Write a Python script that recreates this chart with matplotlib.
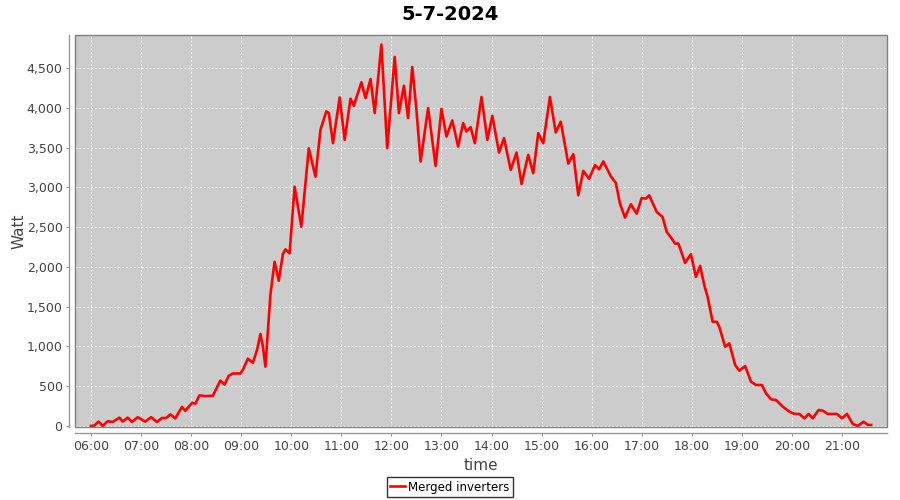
import matplotlib
matplotlib.use("Agg")
import matplotlib.pyplot as plt
import matplotlib.dates as mdates
from matplotlib.patches import Rectangle
from matplotlib.ticker import FuncFormatter, MultipleLocator
import pandas as pd

# --- data (time of day, watts) ---
times = [
    "06:00", "06:04", "06:09", "06:14", "06:20", "06:26", "06:34", "06:38", "06:44", "06:49",
    "06:56", "07:05", "07:12", "07:19", "07:25", "07:30", "07:35", "07:41", "07:49", "07:53",
    "08:01", "08:05", "08:10", "08:17", "08:26", "08:35", "08:40", "08:45", "08:50", "08:59",
    "09:02", "09:08", "09:14", "09:19", "09:23", "09:26", "09:29", "09:35", "09:40", "09:45",
    "09:50", "09:53", "09:58", "10:04", "10:12", "10:14", "10:21", "10:29", "10:35", "10:42",
    "10:45", "10:50", "10:58", "11:04", "11:11", "11:15", "11:24", "11:29", "11:35", "11:40",
    "11:48", "11:55", "12:04", "12:09", "12:15", "12:20", "12:25", "12:30", "12:35", "12:44",
    "12:53", "13:00", "13:06", "13:13", "13:20", "13:26", "13:30", "13:35", "13:40", "13:48",
    "13:55", "14:01", "14:09", "14:15", "14:23", "14:30", "14:36", "14:44", "14:50", "14:56",
    "15:02", "15:10", "15:17", "15:23", "15:32", "15:38", "15:44", "15:50", "15:57", "16:04",
    "16:09", "16:14", "16:23", "16:29", "16:34", "16:40", "16:47", "16:54", "17:00", "17:05",
    "17:09", "17:18", "17:25", "17:30", "17:34", "17:40", "17:44", "17:52", "17:59", "18:05",
    "18:10", "18:15", "18:19", "18:25", "18:30", "18:33", "18:40", "18:45", "18:52", "18:57",
    "19:04", "19:11", "19:17", "19:24", "19:29", "19:35", "19:41", "19:49", "19:57", "20:03",
    "20:09", "20:15", "20:20", "20:25", "20:32", "20:37", "20:43", "20:54", "21:00", "21:06",
    "21:13", "21:19", "21:26", "21:31", "21:35",
]
watts = [
    0, 5, 55, 0, 60, 50, 105, 55, 105, 50,
    110, 55, 110, 50, 100, 100, 145, 95, 240, 190,
    290, 280, 385, 375, 380, 570, 520, 630, 660, 660,
    705, 845, 795, 955, 1156, 1000, 745, 1650, 2065, 1826,
    2162, 2220, 2170, 3008, 2505, 2715, 3490, 3134, 3723, 3954,
    3933, 3555, 4130, 3597, 4113, 4025, 4320, 4122, 4361, 3933,
    4794, 3492, 4639, 3933, 4277, 3870, 4513, 3975, 3324, 3996,
    3269, 3987, 3639, 3840, 3513, 3807, 3702, 3757, 3555, 4135,
    3597, 3899, 3437, 3618, 3219, 3437, 3042, 3408, 3177, 3681,
    3555, 4135, 3690, 3825, 3297, 3417, 2900, 3207, 3107, 3279,
    3226, 3326, 3138, 3054, 2795, 2619, 2787, 2669, 2866, 2858,
    2899, 2690, 2627, 2439, 2385, 2293, 2293, 2050, 2159, 1874,
    2012, 1770, 1623, 1310, 1310, 1247, 996, 1038, 766, 695,
    753, 556, 515, 515, 410, 335, 326, 243, 180, 151,
    151, 96, 151, 96, 201, 192, 151, 151, 96, 151,
    25, 0, 54, 13, 13,
]
day = "2024-07-05"
title = "5-7-2024"
series_name = "Merged inverters"

t = pd.to_datetime([f"{day} {s}" for s in times])

fig = plt.figure(figsize=(9, 5), dpi=100)
ax = fig.add_axes([75 / 900, 1 - 427 / 500, 812 / 900, 392 / 500])
ax.set_facecolor("#cccccc")

ax.plot(t, watts, color="#ff0000", linewidth=1.9, solid_joinstyle="round",
        label=series_name, zorder=3)

ax.set_xlim(pd.Timestamp(f"{day} 05:40:48"), pd.Timestamp(f"{day} 21:54:00"))
ax.set_ylim(-13, 4915)

ax.xaxis.set_major_locator(mdates.HourLocator())
ax.xaxis.set_major_formatter(mdates.DateFormatter("%H:%M"))
ax.yaxis.set_major_locator(MultipleLocator(500))
ax.yaxis.set_major_formatter(FuncFormatter(lambda v, p: f"{int(v):,}"))

ax.grid(True, color="white", linestyle=(0, (2, 2)), linewidth=0.7, zorder=1)
ax.set_axisbelow(True)

# JFreeChart look: thin gray outline, axis lines a few pixels away from plot
for side in ("top", "right"):
    ax.spines[side].set_visible(False)
for side in ("left", "bottom"):
    ax.spines[side].set_position(("outward", 4))
    ax.spines[side].set_color("#999999")
    ax.spines[side].set_linewidth(1.0)
ax.add_patch(Rectangle((0, 0), 1, 1, transform=ax.transAxes, fill=False,
                       edgecolor="#808080", linewidth=1.0, clip_on=False, zorder=4))

ax.tick_params(axis="both", colors="#999999", length=2, width=0.8,
               labelsize=9, labelcolor="#444444", pad=3)

ax.set_xlabel("time", fontsize=11, color="#444444", labelpad=4)
ax.set_ylabel("Watt", fontsize=11, color="#444444", labelpad=0)
fig.suptitle(title, x=0.5, y=0.99, fontsize=14, fontweight="bold")

leg = fig.legend(loc="center", bbox_to_anchor=(0.5, 0.026), frameon=True,
                 fancybox=False, edgecolor="black", fontsize=8.5,
                 handlelength=1.2, handletextpad=0.3, borderpad=0.3,
                 borderaxespad=0)
leg.get_frame().set_linewidth(1.0)

fig.savefig("out.png", dpi=100)
